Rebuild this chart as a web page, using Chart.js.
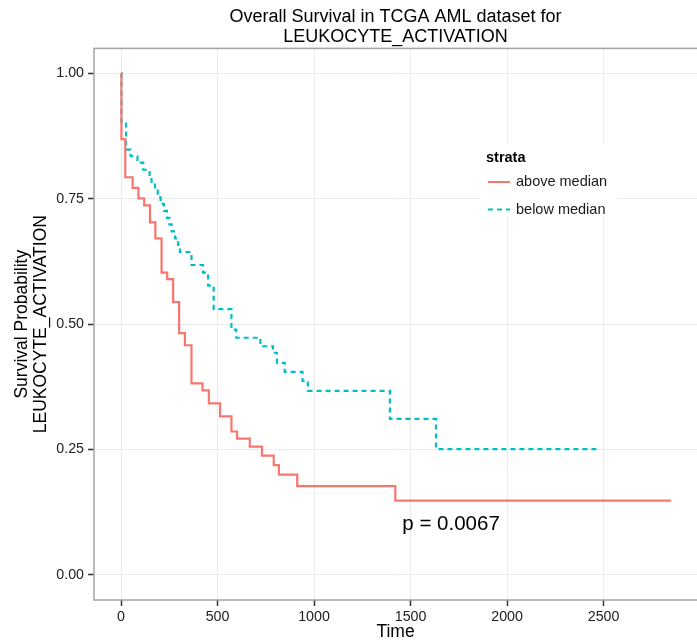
<!DOCTYPE html>
<html>
<head>
<meta charset="utf-8">
<script src="https://cdn.jsdelivr.net/npm/chart.js@4.4.1/dist/chart.umd.min.js"></script>
<style>
  html, body { margin: 0; padding: 0; background: #fff; overflow: hidden; }
  canvas { display: block; }
</style>
</head>
<body>
<canvas id="km-chart" width="697" height="642"></canvas>
<script>
// Kaplan-Meier estimates per stratum (time in days, survival probability)
const strataLabels = ['above median', 'below median'];

const aboveTime = [0, 2, 22, 60, 90, 120, 150, 178, 210, 239, 270, 301, 331, 365, 422, 455, 513,
    572, 601, 667, 730, 791, 818, 913, 1421, 2850];
const aboveSurv = [1.0, 0.869, 0.793, 0.772, 0.751, 0.737, 0.703, 0.671, 0.603, 0.590, 0.544, 0.482,
    0.458, 0.382, 0.368, 0.342, 0.316, 0.286, 0.272, 0.256, 0.238, 0.219, 0.200, 0.177, 0.148, 0.148];

const belowTime = [0, 2, 26, 50, 85, 115, 148, 158, 176, 190, 205, 222, 238, 250, 262, 280, 296,
    305, 365, 425, 451, 480, 572, 597, 722, 787, 808, 848, 940, 968, 1393, 1632, 2480];
const belowSurv = [1.0, 0.904, 0.848, 0.835, 0.822, 0.808, 0.795, 0.781, 0.767, 0.753, 0.740, 0.726,
    0.712, 0.699, 0.685, 0.671, 0.658, 0.644, 0.618, 0.603, 0.577, 0.530, 0.489, 0.473, 0.456,
    0.443, 0.423, 0.405, 0.387, 0.367, 0.311, 0.251, 0.251];

const xTicks = [0, 500, 1000, 1500, 2000, 2500];
const yTicks = [0, 0.25, 0.5, 0.75, 1.0];

const pValueText = 'p = 0.0067';
const pValuePos = { x: 1710, y: 0.1 };

const FONT = '"Liberation Sans", Arial, Helvetica, sans-serif';
const RED = '#F8766D';
const TEAL = '#00BFC4';

function toPoints(times, surv) {
    return times.map((t, i) => ({ x: t, y: surv[i] }));
}

// panel outline, drawn over the curves like ggplot does
const panelBorder = {
    id: 'panelBorder',
    afterDatasetsDraw(chart) {
        const { ctx, chartArea: a } = chart;
        ctx.save();
        ctx.strokeStyle = '#a3a3a3';
        ctx.lineWidth = 1.5;
        ctx.strokeRect(a.left, a.top, a.right - a.left + 5, a.bottom - a.top);
        ctx.restore();
    }
};

// legend box inside the panel with the "strata" heading
const strataLegend = {
    id: 'strataLegend',
    afterDatasetsDraw(chart) {
        const ctx = chart.ctx;
        ctx.save();
        ctx.fillStyle = '#fff';
        ctx.fillRect(480, 143, 137, 75);

        ctx.fillStyle = '#000';
        ctx.textBaseline = 'middle';
        ctx.textAlign = 'left';
        ctx.font = 'bold 14.5px ' + FONT;
        ctx.fillText('strata', 486, 158);

        ctx.font = '14.5px ' + FONT;
        chart.data.datasets.forEach((ds, i) => {
            const y = 182 + i * 27.5;
            ctx.strokeStyle = ds.borderColor;
            ctx.lineWidth = 2;
            ctx.setLineDash(ds.borderDash || []);
            ctx.beginPath();
            ctx.moveTo(488, y);
            ctx.lineTo(510, y);
            ctx.stroke();
            ctx.setLineDash([]);
            ctx.fillStyle = '#1a1a1a';
            ctx.fillText(ds.label, 516, y);
        });
        ctx.restore();
    }
};

// log-rank p-value annotation, placed in data coordinates
const pValueLabel = {
    id: 'pValueLabel',
    afterDatasetsDraw(chart) {
        const { ctx, scales } = chart;
        ctx.save();
        ctx.fillStyle = '#000';
        ctx.font = '20.5px ' + FONT;
        ctx.textAlign = 'center';
        ctx.textBaseline = 'middle';
        ctx.fillText(pValueText, scales.x.getPixelForValue(pValuePos.x), scales.y.getPixelForValue(pValuePos.y));
        ctx.restore();
    }
};

const tickFont = { family: FONT, size: 14.25 };
const titleFont = { family: FONT, size: 17.5, lineHeight: 1.1 };

const ctx = document.getElementById('km-chart');
const kmChart = new Chart(ctx, {
    type: 'line',
    data: {
        datasets: [
            {
                label: strataLabels[0],
                data: toPoints(aboveTime, aboveSurv),
                borderColor: RED,
                borderWidth: 2.2,
                stepped: 'before',
                pointRadius: 0,
                fill: false
            },
            {
                label: strataLabels[1],
                data: toPoints(belowTime, belowSurv),
                borderColor: TEAL,
                borderWidth: 2.2,
                borderDash: [5, 4],
                stepped: 'before',
                pointRadius: 0,
                fill: false
            }
        ]
    },
    options: {
        responsive: false,
        animation: false,
        events: [],
        layout: { padding: 0 },
        plugins: {
            legend: { display: false },
            tooltip: { enabled: false },
            title: {
                display: true,
                fullSize: false,
                text: ['Overall Survival in TCGA AML dataset for', 'LEUKOCYTE_ACTIVATION'],
                color: '#000',
                font: { family: FONT, size: 18, weight: 'normal', lineHeight: 1.08 },
                padding: { top: 7.6, bottom: 1.9 }
            }
        },
        scales: {
            x: {
                type: 'linear',
                min: -140,
                max: 2984,
                afterBuildTicks: s => { s.ticks = xTicks.map(v => ({ value: v })); },
                afterFit: s => { s.height = 42; },
                border: { display: false },
                grid: { color: '#ebebeb', lineWidth: 1, tickColor: '#333', tickWidth: 1.5, tickLength: 6 },
                ticks: { font: tickFont, color: '#222', padding: 3, maxRotation: 0, callback: v => String(v) },
                title: { display: true, text: 'Time', color: '#000', font: titleFont, padding: { top: 0, bottom: 0 } }
            },
            y: {
                min: -0.05,
                max: 1.05,
                afterBuildTicks: s => { s.ticks = yTicks.map(v => ({ value: v })); },
                afterFit: s => { s.width = 94; },
                border: { display: false },
                grid: { color: '#ebebeb', lineWidth: 1, tickColor: '#333', tickWidth: 1.5, tickLength: 6 },
                ticks: { font: tickFont, color: '#222', padding: 4, callback: v => v.toFixed(2) },
                title: {
                    display: true,
                    text: ['Survival Probability', 'LEUKOCYTE_ACTIVATION'],
                    color: '#000',
                    font: titleFont,
                    padding: { top: 12.5, bottom: 0 }
                }
            }
        }
    },
    plugins: [panelBorder, strataLegend, pValueLabel]
});
</script>
</body>
</html>
